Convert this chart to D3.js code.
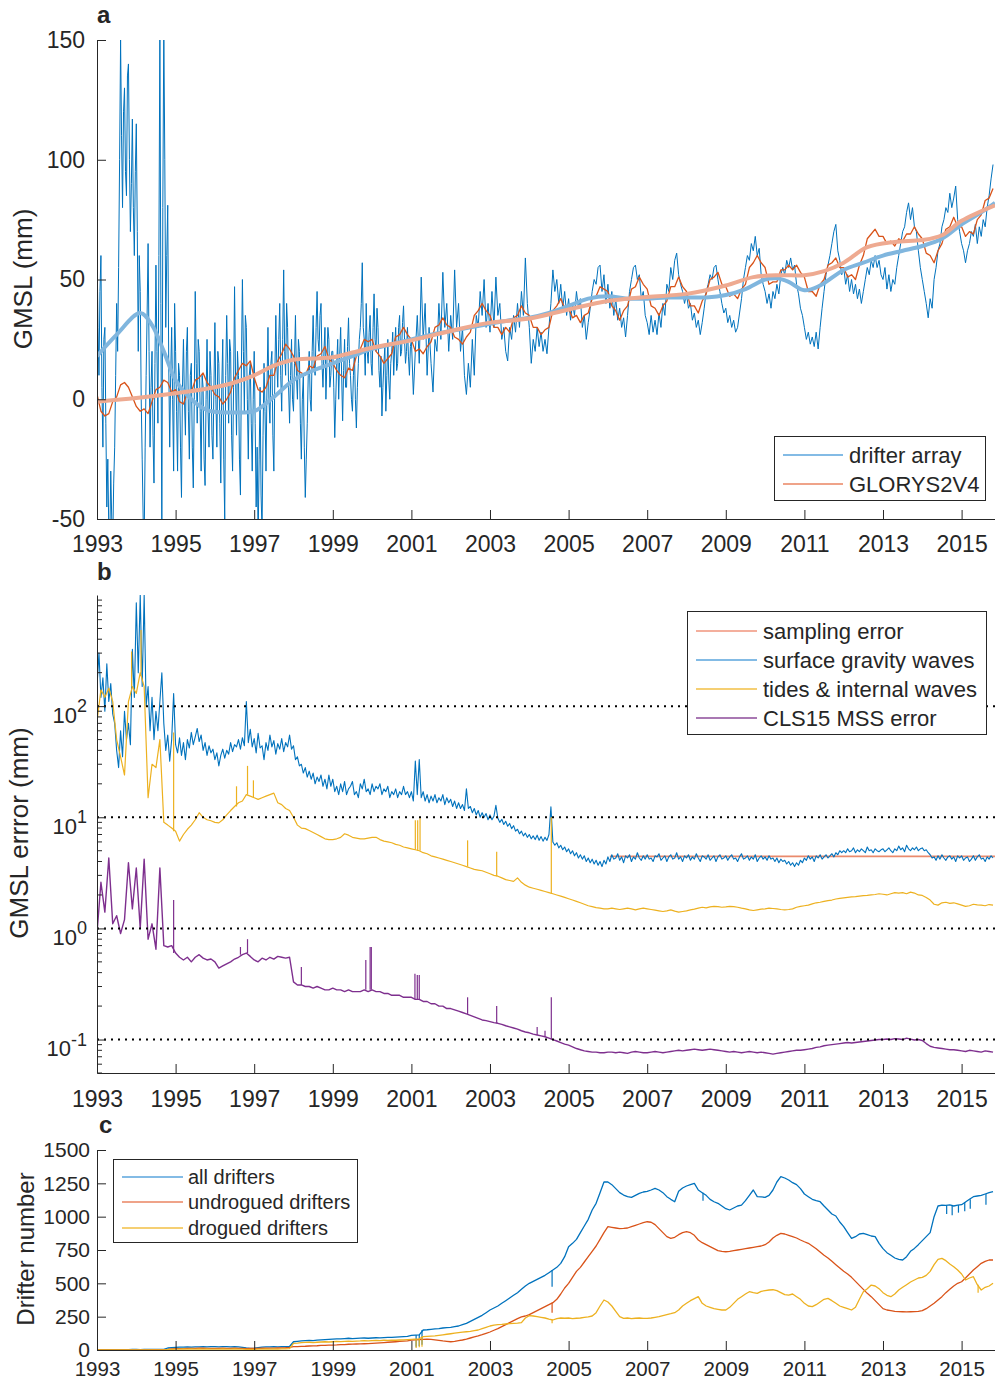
<!DOCTYPE html>
<html>
<head>
<meta charset="utf-8">
<script src="https://cdn.jsdelivr.net/npm/d3@7"></script>
<style>
  body { margin: 0; background: #fff; }
  svg text { font-family: 'Liberation Sans', Arial, Helvetica, sans-serif; fill: #262626; }
</style>
</head>
<body>
<div id="chart"></div>
<script>
/* Data
-----------------------------------------------------------------------------*/
const startYear = 1993;
const lateStart = 2001;
const denseStep = 0.025;
const fineStep = 0.05;
const coarseStep = 0.1;

const yearTicks = [1993, 1995, 1997, 1999, 2001, 2003, 2005, 2007, 2009, 2011, 2013, 2015];
const gmslTicks = [-50, 0, 50, 100, 150];
const errorTicks = [0.1, 1, 10, 100];
const errorExponents = ['-1', '0', '1', '2'];
const numberTicks = [0, 250, 500, 750, 1000, 1250, 1500];

const gmslLabels = ['drifter array', 'GLORYS2V4'];
const errorLabels = ['sampling error', 'surface gravity waves', 'tides & internal waves', 'CLS15 MSS error'];
const numberLabels = ['all drifters', 'undrogued drifters', 'drogued drifters'];

// panel a, drifter array GMSL (mm), every 0.025 yr from 1993 to 2000.975
const drifterGmslEarly = [
  65, 30, 10, 45, 60, 5, -20, 25, 30, -10, -45, -25, -55, -60, -30, -50, -60, -35, -20, 10,
  40, 20, 55, 100, 150, 110, 80, 120, 130, 95, 85, 135, 140, 100, 70, 90, 117, 80, 60, 95,
  115, 70, 20, 60, 45, 0, -25, -50, -60, -20, 10, 35, 65, 20, -20, 5, 20, -15, -35, 15,
  56, 20, -10, 60, 155, 40, -60, 80, 155, 100, 30, 60, 81, 15, -20, 10, 30, 0, -30, 40,
  20, -5, -30, 15, 10, -20, -41, 5, 25, 0, -15, 20, 30, -5, -25, 10, 15, -20, -37, 0,
  45, 15, -10, 25, 20, -5, -30, 10, 5, -25, -36, 0, 25, -5, -20, 20, 10, -15, -25, 5,
  32, 0, -20, 20, 15, -10, -35, 5, 25, -25, -50, 10, 35, 15, -10, 25, 20, -15, -30, 5,
  47, 10, -15, 20, 10, -25, -40, 15, 50, 20, -5, 35, 30, 0, -25, 10, 15, -10, -30, 0,
  20, -10, -45, -20, -60, -25, 5, -40, -55, -15, 15, -5, -30, 5, 30, 0, -10, 15, 20, -15,
  -30, 10, 35, 15, 5, 25, 40, 10, -5, 25, 54, 20, 10, 40, 30, 5, -10, 10, 25, 0,
  -5, 15, 35, 10, 0, 25, 20, -10, -25, 0, 10, -20, -41, -25, -10, 10, 20, 0, -5, 20,
  35, 15, 10, 30, 45, 25, 20, 35, 40, 15, 5, 20, 30, 0, 15, 30, 25, 5, 10, 20,
  20, 5, -16, 0, 15, 25, 0, 18, 30, 10, -9, 12, 25, 5, 5, 22, 34, 15, 10, 0,
  -5, 10, 20, 0, -12, 5, 15, 25, 30, 40, 57, 30, 25, 10, 40, 20, 15, 28, 35, 15,
  10, 30, 44, 25, 20, 38, 30, 12, 5, 18, -7, 5, 15, 22, -5, 10, 25, 8, 0, 15,
  20, 28, 10, 22, 30, 12, 15, 30, 35, 18, 20, 32, 39, 25, 15, 20, 30, 18, 10, 22
];

// panel a, drifter array GMSL (mm), every 0.05 yr from 2001
const drifterGmslLate = [
  25, 2, 20, 35, 15, 51, 25, 40, 10, 30, 15, 3, 25, 20, 40, 25, 53, 30, 40, 20,
  35, 25, 54, 30, 40, 20, 30, 10, 2, 15, 5, 25, 10, 35, 30, 45, 35, 50, 30, 40,
  28, 45, 30, 51, 35, 40, 25, 30, 20, 16, 30, 25, 35, 28, 40, 30, 45, 35, 59, 40,
  30, 15, 25, 20, 30, 22, 28, 20, 25, 19, 30, 40, 54, 45, 50, 40, 48, 38, 45, 35,
  42, 33, 40, 35, 45, 38, 42, 30, 35, 25, 32, 38, 45, 50, 48, 55, 56, 45, 52, 40,
  48, 38, 45, 35, 42, 33, 38, 30, 34, 26, 35, 45, 50, 55, 56, 50, 52, 42, 45, 35,
  32, 27, 35, 28, 33, 27, 36, 30, 40, 35, 48, 45, 55, 50, 58, 61, 52, 48, 45, 40,
  44, 38, 40, 33, 36, 30, 33, 27, 32, 38, 45, 48, 52, 50, 55, 56, 50, 45, 40, 36,
  38, 32, 35, 30, 33, 28, 30, 36, 42, 50, 55, 60, 58, 65, 62, 68, 60, 63, 52, 48,
  45, 40, 44, 38, 45, 42, 48, 44, 52, 55, 52, 58, 55, 59, 54, 56, 48, 44, 38, 35,
  30, 25, 28, 23, 26, 22, 28, 21, 30, 38, 45, 52, 56, 60, 65, 70, 73, 62, 58, 52,
  55, 48, 52, 45, 50, 44, 48, 42, 46, 40, 45, 50, 55, 52, 58, 55, 60, 55, 58, 52,
  50, 55, 46, 52, 45, 50, 48, 55, 60, 65, 70, 72, 78, 82, 75, 80, 72, 70, 62, 55,
  50, 45, 40, 34, 42, 38, 50, 55, 62, 65, 72, 75, 80, 78, 86, 80, 84, 89, 75, 70,
  65, 62, 57, 62, 65, 70, 68, 73, 65, 72, 68, 75, 72, 80, 85, 92, 98
];

// panel a, GLORYS2V4 GMSL (mm), every 0.1 yr from 1993
const glorysGmsl = [
  2, -5, -7, -6, -1, 1, 6, 7, 5, 1,
  -3, -5, -4, -6, -1, 4, 5, 8, 7, 3,
  4, -1, -2, 3, 3, 8, 9, 11, 7, 5,
  2, 1, -2, 0, 3, 9, 12, 15, 14, 16,
  9, 4, 3, 5, 10, 10, 16, 19, 23, 21,
  18, 12, 11, 10, 14, 13, 18, 19, 22, 17,
  15, 12, 10, 9, 13, 12, 18, 21, 25, 24,
  25, 20, 18, 15, 17, 19, 26, 27, 30, 27,
  25, 20, 21, 19, 22, 24, 30, 31, 34, 31,
  30, 26, 25, 23, 26, 28, 35, 37, 40, 37,
  35, 30, 30, 27, 30, 28, 34, 35, 39, 36,
  35, 30, 30, 27, 29, 30, 37, 39, 42, 38,
  38, 34, 35, 32, 35, 36, 42, 43, 47, 46,
  45, 39, 37, 33, 37, 39, 46, 47, 51, 48,
  46, 39, 38, 35, 39, 41, 47, 47, 51, 47,
  45, 39, 39, 36, 41, 44, 50, 51, 53, 48,
  47, 43, 44, 42, 46, 48, 55, 57, 60, 57,
  55, 48, 49, 49, 54, 54, 56, 54, 56, 53,
  51, 45, 45, 43, 48, 50, 56, 57, 59, 55,
  55, 51, 52, 50, 56, 60, 67, 69, 71, 68,
  68, 65, 66, 64, 67, 66, 69, 69, 72, 69,
  67, 61, 60, 57, 62, 65, 71, 72, 76, 72,
  72, 68, 70, 69, 75, 77, 83, 84, 88
];

// panel a, low-pass versions
const drifterSmoothYears = [1993.0, 1993.5, 1994.1, 1994.4, 1994.7, 1995.0, 1995.4, 1995.8, 1996.2, 1996.6, 1997.0, 1997.5, 1998.0, 1998.5, 1999.0, 1999.5, 2000.0, 2000.5, 2001.0, 2001.5, 2002.0, 2002.5, 2003.0, 2003.5, 2004.0, 2004.5, 2005.0, 2005.5, 2006.0, 2006.5, 2007.0, 2007.5, 2008.0, 2008.5, 2009.0, 2009.5, 2010.0, 2010.3, 2010.6, 2011.0, 2011.4, 2012.0, 2012.5, 2013.0, 2013.5, 2014.0, 2014.5, 2015.0, 2015.5, 2015.85];
const drifterSmooth = [18, 27, 36, 31, 20, 8, 0, -4.5, -5.5, -5.5, -5, 1, 8, 12, 15, 18, 21, 23, 25, 27, 28.5, 30, 31.5, 33, 34, 36, 39, 42, 43, 42, 42, 42.5, 42.5, 42.5, 43.5, 46, 50, 50.5, 49, 45.5, 47.5, 54, 57, 60, 62, 64, 67, 73, 78, 82];
const glorysSmoothYears = [1993.0, 1994.0, 1995.0, 1996.0, 1996.5, 1997.0, 1997.5, 1998.0, 1998.5, 1999.0, 1999.5, 2000.0, 2001.0, 2002.0, 2003.0, 2004.0, 2005.0, 2006.0, 2007.0, 2008.0, 2009.0, 2009.7, 2010.4, 2011.0, 2011.5, 2012.0, 2012.6, 2013.3, 2014.0, 2014.5, 2015.0, 2015.85];
const glorysSmooth = [-1, 0.5, 2.5, 5, 7, 10, 14, 16.5, 17, 17.5, 19.5, 21.5, 24.6, 28.5, 32, 33.7, 37.5, 41, 42.7, 44, 47.5, 51, 51.8, 51.8, 53.5, 57, 63.5, 65.7, 66.5, 68.5, 74.5, 81];

// panel b, GMSL error (mm)
const samplingYears = [2006.05, 2015.85];
const samplingError = [4.45, 4.45];

// surface gravity waves, every 0.05 yr from 1993
const gravityWaveError = [
  150, 300, 120, 180, 90, 240, 110, 160, 85, 70, 40, 28, 60, 35, 90, 50, 70, 45, 324, 120,
  850, 200, 1000, 150, 1000, 100, 150, 60, 120, 50, 90, 60, 110, 200, 70, 40, 55, 32, 50, 130,
  45, 38, 52, 36, 47, 33, 50, 42, 58, 45, 53, 63, 48, 55, 40, 47, 36, 44, 38, 41,
  33, 38, 29, 36, 41, 34, 40, 37, 47, 39, 45, 43, 50, 41, 52, 44, 110, 47, 62, 43,
  51, 38, 57, 42, 44, 33, 47, 40, 55, 43, 49, 37, 46, 41, 51, 39, 47, 43, 55, 41,
  44, 33, 35, 29, 30, 25, 28, 23, 26, 22, 25, 20, 23, 21, 24, 19, 22, 18, 24, 19,
  22, 17, 19, 16, 20, 17, 21, 16, 18, 19, 21, 16, 17, 15, 20, 18, 22, 17, 18, 16,
  20, 17, 19, 18, 20, 16, 18, 17, 19, 15, 17, 16, 18, 15, 17, 16, 19, 16, 17, 15,
  17, 14, 32, 16, 33, 15, 17, 14, 16, 13.5, 15.5, 14, 16, 13.5, 15, 14, 16, 13, 15, 13.5,
  14.5, 12.5, 14, 12, 13.5, 12, 13, 11.5, 18, 12, 12.5, 11, 12, 10.5, 11.5, 10, 11, 10, 10.8, 9.5,
  10.5, 9.5, 10.2, 12.8, 9.8, 9, 9.6, 8.6, 9.2, 8.3, 8.8, 7.9, 8.4, 7.5, 7.8, 7.1, 7.5, 6.8, 7.2, 6.6,
  7, 6.4, 6.8, 6.3, 6.9, 6.2, 6.7, 6.1, 6.6, 6.2, 7, 12.4, 6, 5.6, 5.9, 5.3, 5.6, 5.1, 5.4, 4.9,
  5.2, 4.7, 5, 4.5, 4.8, 4.3, 4.6, 4.2, 4.5, 4, 4.3, 3.9, 4.2, 3.8, 4.1, 3.7, 4, 3.6, 4.1, 3.8,
  4.4, 4, 4.6, 4.2, 4.3, 4.7, 4.1, 4.4, 3.9, 4.5, 4.3, 4.6, 4, 4.4, 4.2, 4.8, 4.3, 4.1, 4.5, 4.2,
  4.6, 4.2, 4.3, 4, 4.5, 4.4, 4.7, 4.1, 4.3, 4.5, 4, 4.4, 4.6, 4.2, 4.3, 4.8, 4.2, 4.4, 4, 4.5,
  4.3, 4.6, 4.1, 4.4, 4.2, 4.7, 4.3, 4, 4.5, 4.4, 4.2, 4.6, 4.1, 4.3, 4.5, 4, 4.4, 4.6, 4.2, 4.3,
  4.5, 4.1, 4.4, 4.6, 4.2, 4.3, 4, 4.4, 4.7, 4.2, 4.3, 4.5, 4.1, 4.4, 4.2, 4.6, 4, 4.3, 4.5, 4.2,
  4.4, 4.1, 4.5, 4.2, 4.3, 4, 4.3, 3.9, 4.2, 4, 4.1, 3.8, 4, 3.7, 3.9, 3.6, 3.9, 3.7, 4.1, 3.9,
  4.3, 4.1, 4.5, 4.2, 4.4, 4, 4.5, 4.3, 4.6, 4.2, 4.4, 4.6, 4.3, 4.5, 4.7, 4.4, 4.8, 4.6, 5, 4.8,
  5, 4.8, 5.2, 4.9, 5, 5.3, 4.8, 5.1, 4.9, 5.2, 5, 4.8, 5.4, 5, 5.1, 4.8, 5.2, 5, 4.9, 5.1,
  5.2, 4.9, 5.1, 5.3, 5, 4.8, 5.2, 5, 5.5, 5.1, 5.3, 4.9, 5.6, 5.2, 5, 5.3, 5.1, 5.4, 5, 5.2,
  5.3, 5, 5.1, 4.8, 4.6, 4.3, 4.4, 4.1, 4.5, 4.2, 4.6, 4.3, 4.1, 4.4, 4.5, 4.2, 4.4, 4, 4.5, 4.3,
  4.5, 4.1, 4.3, 4.4, 4, 4.2, 4.5, 4.1, 4.4, 4.6, 4.2, 4.3, 4, 4.4, 4.2, 4.5, 4.3
];

// tides & internal waves, every 0.1 yr from 1993
const tideError = [
  73, 140, 120, 145, 110, 50, 35, 24, 110, 150,
  130, 200, 150, 15, 30, 28, 50, 9, 8.5, 8,
  7.5, 6.1, 7, 7.8, 8.5, 9.5, 11, 10, 9.5, 9.3,
  9, 8.9, 9.5, 10.5, 11.5, 12.5, 13.5, 14, 16, 15.5,
  15, 14.5, 15, 15.5, 16, 16.5, 13.5, 13, 12, 11.5,
  10, 8.5, 8, 7.9, 7.6, 7.3, 7, 6.7, 6.4, 6.3,
  6.3, 6.4, 6.6, 7.1, 6.9, 6.6, 6.5, 6.4, 6.4, 6.5,
  6.6, 6.6, 6.3, 6.1, 6, 5.9, 5.7, 5.6, 5.4, 5.3,
  5.2, 5.1, 5, 4.8, 4.7, 4.5, 4.4, 4.3, 4.2, 4.1,
  4, 3.9, 3.8, 3.7, 3.6, 3.5, 3.4, 3.35, 3.3, 3.2,
  3.1, 3, 2.95, 2.85, 2.75, 2.7, 2.65, 2.85, 2.6, 2.45,
  2.35, 2.3, 2.25, 2.2, 2.15, 2.1, 2.05, 2, 1.95, 1.9,
  1.85, 1.8, 1.75, 1.7, 1.65, 1.6, 1.57, 1.54, 1.52, 1.5,
  1.5, 1.52, 1.5, 1.48, 1.5, 1.52, 1.5, 1.47, 1.5, 1.52,
  1.5, 1.48, 1.46, 1.44, 1.42, 1.44, 1.47, 1.43, 1.4, 1.42,
  1.44, 1.47, 1.49, 1.52, 1.55, 1.53, 1.56, 1.58, 1.57, 1.55,
  1.56, 1.58, 1.57, 1.55, 1.52, 1.5, 1.47, 1.45, 1.47, 1.49,
  1.5, 1.52, 1.51, 1.5, 1.48, 1.47, 1.48, 1.5, 1.55, 1.58,
  1.6, 1.62, 1.66, 1.7, 1.72, 1.75, 1.78, 1.8, 1.84, 1.86,
  1.88, 1.9, 1.92, 1.93, 1.95, 1.97, 1.98, 2, 2.02, 2.05,
  2.03, 2, 2.05, 2.1, 2.08, 2.1, 2.05, 2.12, 2.08, 2,
  1.98, 1.9, 1.8, 1.65, 1.62, 1.7, 1.72, 1.68, 1.7, 1.66,
  1.62, 1.58, 1.6, 1.65, 1.63, 1.62, 1.6, 1.64, 1.62
];
const tideSpikes = [[1993.88, 310], [1994.12, 485], [1994.95, 58], [1996.55, 19], [1996.83, 29], [1996.98, 21.5], [2001.1, 9.4], [2001.16, 9.4], [2001.22, 9.8], [2002.43, 6.2], [2003.17, 4.9], [2004.56, 10]];

// CLS15 MSS error, every 0.1 yr from 1993
const mssError = [
  0.9, 2.6, 1.4, 4.3, 1.1, 1.3, 0.9, 1.2, 3.9, 1.5,
  3.5, 1, 4.2, 0.8, 1.1, 0.65, 3.5, 0.7, 0.68, 0.7,
  0.6, 0.55, 0.52, 0.55, 0.5, 0.55, 0.58, 0.54, 0.52, 0.53,
  0.5, 0.44, 0.46, 0.48, 0.5, 0.53, 0.55, 0.58, 0.6, 0.56,
  0.52, 0.5, 0.54, 0.52, 0.55, 0.53, 0.56, 0.55, 0.54, 0.55,
  0.33, 0.31, 0.31, 0.3, 0.3, 0.29, 0.3, 0.29, 0.28, 0.28,
  0.29, 0.28, 0.28, 0.27, 0.28, 0.27, 0.27, 0.27, 0.28, 0.27,
  0.28, 0.27, 0.27, 0.26, 0.26, 0.25, 0.25, 0.25, 0.24, 0.24,
  0.24, 0.23, 0.23, 0.22, 0.22, 0.21, 0.21, 0.2, 0.2, 0.19,
  0.19, 0.185, 0.18, 0.175, 0.17, 0.165, 0.16, 0.155, 0.15, 0.148,
  0.145, 0.142, 0.14, 0.137, 0.133, 0.13, 0.127, 0.124, 0.12, 0.117,
  0.115, 0.112, 0.11, 0.108, 0.106, 0.103, 0.1, 0.097, 0.094, 0.091,
  0.089, 0.086, 0.083, 0.081, 0.079, 0.078, 0.077, 0.077, 0.076, 0.076,
  0.077, 0.077, 0.076, 0.077, 0.076, 0.075, 0.077, 0.078, 0.077, 0.076,
  0.076, 0.077, 0.078, 0.077, 0.076, 0.077, 0.078, 0.079, 0.08, 0.079,
  0.08, 0.081, 0.082, 0.081, 0.08, 0.081, 0.082, 0.081, 0.08, 0.079,
  0.078, 0.077, 0.078, 0.077, 0.076, 0.077, 0.078, 0.077, 0.076, 0.077,
  0.076, 0.075, 0.074, 0.075, 0.076, 0.077, 0.078, 0.079, 0.08, 0.08,
  0.081, 0.082, 0.083, 0.085, 0.086, 0.088, 0.089, 0.09, 0.091, 0.092,
  0.093, 0.094, 0.093, 0.094, 0.095, 0.096, 0.097, 0.098, 0.099, 0.1,
  0.1, 0.101, 0.1, 0.102, 0.101, 0.1, 0.103, 0.101, 0.099, 0.1,
  0.098, 0.092, 0.087, 0.085, 0.084, 0.083, 0.082, 0.081, 0.081, 0.08,
  0.079, 0.078, 0.08, 0.079, 0.078, 0.077, 0.079, 0.078, 0.077
];
const mssSpikes = [[1994.95, 1.8], [1996.65, 0.68], [1996.83, 0.8], [1998.2, 0.45], [1999.84, 0.52], [1999.95, 0.68], [1999.98, 0.68], [2001.09, 0.39], [2001.15, 0.38], [2001.2, 0.38], [2002.43, 0.24], [2003.17, 0.2], [2004.2, 0.13], [2004.4, 0.12], [2004.56, 0.24]];

// panel c, drifter number, every 0.1 yr from 1993
const allDrifters = [
  2, 2, 3, 2, 3, 3, 2, 3, 3, 4,
  4, 3, 4, 4, 5, 4, 5, 4, 15, 18,
  20, 22, 21, 23, 22, 24, 23, 25, 24, 26,
  25, 24, 26, 25, 24, 25, 23, 20, 15, 12,
  14, 18, 22, 24, 23, 25, 24, 26, 25, 26,
  62, 65, 68, 70, 72, 70, 74, 76, 78, 80,
  82, 84, 83, 86, 88, 85, 87, 89, 90, 88,
  90, 92, 91, 93, 95, 94, 96, 98, 100, 102,
  110, 112, 114, 150, 152, 155, 158, 160, 165, 168,
  170, 175, 180, 190, 200, 215, 230, 245, 260, 280,
  300, 315, 330, 350, 370, 390, 410, 430, 455, 480,
  500, 515, 530, 545, 560, 580, 600, 620, 650, 700,
  775, 800, 830, 880, 930, 980, 1050, 1100, 1180, 1260,
  1260, 1240, 1210, 1180, 1162, 1150, 1145, 1160, 1175, 1185,
  1190, 1200, 1212, 1200, 1180, 1150, 1130, 1112, 1190, 1215,
  1230, 1240, 1250, 1200, 1180, 1160, 1130, 1112, 1100, 1080,
  1060, 1050, 1065, 1080, 1087, 1120, 1160, 1200, 1150, 1148,
  1145, 1160, 1200, 1260, 1300, 1290, 1275, 1255, 1240, 1210,
  1170, 1150, 1130, 1120, 1112, 1080, 1050, 1020, 1005, 960,
  925, 880, 837, 850, 870, 875, 865, 855, 850, 800,
  760, 730, 710, 690, 680, 675, 700, 740, 762, 790,
  820, 850, 880, 1000, 1080, 1087, 1085, 1088, 1080, 1087,
  1090, 1110, 1130, 1150, 1155, 1160, 1170, 1180, 1187
];
const allSpikes = [[2001.12, 25], [2001.2, 30], [2001.27, 40], [2004.58, 475], [2008.42, 1120], [2014.62, 1020], [2014.76, 1010], [2014.92, 1030], [2015.08, 1040], [2015.22, 1060], [2015.62, 1090]];

const undroguedDrifters = [
  0, 0, 0, 0, 0, 0, 0, 0, 1, 1,
  1, 1, 1, 1, 2, 2, 2, 3, 5, 8,
  10, 10, 11, 12, 12, 12, 13, 13, 12, 12,
  12, 12, 13, 12, 12, 13, 12, 12, 11, 12,
  12, 12, 13, 13, 14, 14, 15, 16, 17, 20,
  25, 26, 27, 28, 30, 31, 32, 34, 35, 37,
  37, 38, 40, 41, 43, 44, 45, 46, 47, 48,
  50, 52, 54, 56, 58, 60, 62, 64, 66, 68,
  75, 76, 78, 80, 82, 80, 76, 72, 68, 65,
  62, 65, 70, 75, 82, 90, 98, 106, 115, 125,
  135, 148, 160, 175, 190, 205, 220, 235, 248, 255,
  265, 280, 295, 310, 325, 340, 355, 380, 420, 465,
  500, 545, 590, 620, 660, 700, 740, 780, 830, 880,
  925, 920, 915, 910, 912, 915, 925, 935, 945, 955,
  962, 958, 940, 910, 880, 850, 837, 845, 865, 880,
  887, 880, 860, 825, 805, 790, 775, 760, 745, 740,
  737, 740, 745, 750, 755, 760, 765, 770, 775, 780,
  790, 810, 840, 860, 875, 870, 860, 850, 840, 825,
  812, 800, 780, 760, 735, 710, 690, 665, 640, 615,
  590, 570, 545, 515, 485, 455, 425, 400, 370, 340,
  310, 300, 295, 290, 288, 287, 286, 287, 288, 290,
  295, 310, 330, 350, 375, 400, 430, 455, 480, 500,
  512, 540, 570, 600, 625, 650, 665, 675, 675
];
const undroguedSpikes = [[2004.58, 280]];

const droguedDrifters = [
  0, 0, 0, 0, 0, 0, 0, 0, 1, 1,
  1, 1, 1, 1, 1, 1, 1, 1, 3, 5,
  7, 7, 8, 7, 8, 7, 8, 7, 8, 7,
  7, 7, 8, 7, 7, 8, 7, 6, 5, 4,
  5, 6, 7, 8, 7, 8, 7, 8, 9, 10,
  50, 52, 55, 57, 58, 56, 58, 60, 62, 60,
  62, 64, 63, 65, 66, 64, 67, 68, 70, 68,
  70, 72, 70, 73, 72, 74, 73, 75, 76, 78,
  80, 82, 84, 100, 102, 104, 106, 110, 114, 118,
  122, 126, 130, 134, 137, 140, 145, 150, 160, 170,
  180, 186, 190, 192, 195, 198, 200, 202, 205, 240,
  258, 255, 250, 245, 240, 232, 225, 235, 240, 238,
  240, 236, 238, 240, 245, 248, 255, 280, 330, 375,
  360, 330, 290, 250, 237, 240, 235, 238, 240, 237,
  237, 240, 245, 250, 258, 265, 272, 280, 300, 330,
  350, 370, 385, 400, 350, 330, 320, 310, 305, 300,
  300, 320, 350, 380, 400, 420, 437, 430, 425, 440,
  445, 450, 452, 445, 430, 415, 412, 420, 400, 380,
  350, 330, 325, 340, 360, 380, 387, 370, 350, 330,
  320, 310, 300, 320, 380, 437, 460, 487, 480, 460,
  430, 410, 400, 420, 450, 470, 490, 510, 525, 540,
  545, 560, 590, 640, 680, 687, 670, 645, 625, 600,
  570, 525, 540, 550, 490, 450, 470, 480, 500
];
const droguedSpikes = [[2001.12, 15], [2001.2, 20], [2001.27, 25], [2004.58, 200], [2015.42, 430]];

/* Setup
-----------------------------------------------------------------------------*/
const width = 995;
const height = 1380;
const left = 97;
const right = 995;

const blue = '#0072bd';
const orange = '#d95319';
const yellow = '#edb120';
const purple = '#7e2f8e';
const lightBlue = '#80b6de';
const lightOrange = '#eeaa91';
const salmon = '#ea8a6c';

const keyBlue = '#5aa5dc';
const keyOrange = '#ea8462';
const keyYellow = '#f2bf45';
const keyPurple = '#8c4b9a';
const keySalmon = '#f0957c';

const svg = d3
  .select('#chart')
  .append('svg')
  .attr('width', width)
  .attr('height', height)
  .attr('xmlns', 'http://www.w3.org/2000/svg');

svg.append('rect').attr('width', width).attr('height', height).attr('fill', '#fff');

const x = d3.scaleLinear().domain([1993, 2015.85]).range([left, right]);
const yA = d3.scaleLinear().domain([-50, 150]).range([519, 40]);
const yB = d3.scaleLog().domain([0.05, 1000]).range([1073, 595]);
const yC = d3.scaleLinear().domain([0, 1500]).range([1350, 1150]);

/* Helpers
-----------------------------------------------------------------------------*/
function toSeries(values, step, from = startYear) {
  return values.map((v, i) => [+(from + i * step).toFixed(3), v]);
}

function toPairs(years, values) {
  return years.map((t, i) => [t, values[i]]);
}

function plotArea(id, top, bottom) {
  svg
    .append('clipPath')
    .attr('id', id)
    .append('rect')
    .attr('x', left)
    .attr('y', top)
    .attr('width', right - left)
    .attr('height', bottom - top);
  return svg.append('g').attr('clip-path', `url(#${id})`);
}

function drawLine(group, y, data, color, strokeWidth, curve) {
  group
    .append('path')
    .datum(data)
    .attr('fill', 'none')
    .attr('stroke', color)
    .attr('stroke-width', strokeWidth)
    .attr('stroke-linejoin', 'round')
    .attr(
      'd',
      d3
        .line()
        .x((d) => x(d[0]))
        .y((d) => y(d[1]))
        .curve(curve || d3.curveLinear)
    );
}

function drawSpikes(group, y, values, step, spikes, color, strokeWidth) {
  spikes.forEach(([t, peak]) => {
    const base = values[Math.round((t - startYear) / step)];
    group
      .append('line')
      .attr('x1', x(t))
      .attr('x2', x(t))
      .attr('y1', y(base))
      .attr('y2', y(peak))
      .attr('stroke', color)
      .attr('stroke-width', strokeWidth);
  });
}

function styleAxis(g, size) {
  g.attr('font-family', null).attr('font-size', size).attr('color', '#262626');
}

function bottomAxis(yPos, padding, size) {
  svg
    .append('g')
    .attr('transform', `translate(0,${yPos})`)
    .call(
      d3
        .axisBottom(x)
        .tickValues(yearTicks)
        .tickFormat((d) => String(d))
        .tickSizeInner(-9)
        .tickSizeOuter(0)
        .tickPadding(padding)
    )
    .call((g) => styleAxis(g, size));
}

function leftAxis(y, ticks, padding, size, format) {
  return svg
    .append('g')
    .attr('transform', `translate(${left},0)`)
    .call(
      d3
        .axisLeft(y)
        .tickValues(ticks)
        .tickFormat(format)
        .tickSizeInner(-9)
        .tickSizeOuter(0)
        .tickPadding(padding)
    )
    .call((g) => styleAxis(g, size));
}

function legend(box, labels, colors, lineX, textX, rowY, size) {
  const g = svg.append('g');
  g.append('rect')
    .attr('x', box[0])
    .attr('y', box[1])
    .attr('width', box[2])
    .attr('height', box[3])
    .attr('fill', '#fff')
    .attr('stroke', '#262626')
    .attr('stroke-width', 1);
  labels.forEach((label, i) => {
    g.append('line')
      .attr('x1', lineX[0])
      .attr('x2', lineX[1])
      .attr('y1', rowY[i])
      .attr('y2', rowY[i])
      .attr('stroke', colors[i])
      .attr('stroke-width', 1.5);
    g.append('text')
      .attr('x', textX)
      .attr('y', rowY[i] + size * 0.35)
      .attr('font-size', size)
      .text(label);
  });
}

function panelLetter(letter, px, py) {
  svg.append('text').attr('x', px).attr('y', py).attr('font-size', 24).attr('font-weight', 'bold').text(letter);
}

function yTitle(label, px, py, size) {
  svg
    .append('text')
    .attr('transform', `translate(${px},${py}) rotate(-90)`)
    .attr('text-anchor', 'middle')
    .attr('font-size', size)
    .text(label);
}

/* Panel a
-----------------------------------------------------------------------------*/
const areaA = plotArea('clipA', 40, 519);
const drifterSeries = toSeries(drifterGmslEarly, denseStep).concat(toSeries(drifterGmslLate, fineStep, lateStart));
drawLine(areaA, yA, drifterSeries, blue, 1);
drawLine(areaA, yA, toSeries(glorysGmsl, coarseStep), orange, 1.3);
drawLine(areaA, yA, toPairs(drifterSmoothYears, drifterSmooth), lightBlue, 4, d3.curveCatmullRom);
drawLine(areaA, yA, toPairs(glorysSmoothYears, glorysSmooth), lightOrange, 4, d3.curveCatmullRom);

bottomAxis(519, 17, 23);
leftAxis(yA, gmslTicks, 12, 23, (d) => String(d));
legend([774.5, 436.5, 211, 64], gmslLabels, [keyBlue, keyOrange], [783, 843], 849, [455, 484], 22);
panelLetter('a', 97, 23);
yTitle('GMSL (mm)', 32, 279, 26);

/* Panel b
-----------------------------------------------------------------------------*/
const areaB = plotArea('clipB', 595, 1073);
drawLine(areaB, yB, toPairs(samplingYears, samplingError), salmon, 1.6);
drawLine(areaB, yB, toSeries(gravityWaveError, fineStep), blue, 1.1);
drawLine(areaB, yB, toSeries(tideError, coarseStep), yellow, 1.2);
drawSpikes(areaB, yB, tideError, coarseStep, tideSpikes, yellow, 1.2);
drawLine(areaB, yB, toSeries(mssError, coarseStep), purple, 1.4);
drawSpikes(areaB, yB, mssError, coarseStep, mssSpikes, purple, 1.2);

errorTicks.forEach((v) => {
  svg
    .append('line')
    .attr('x1', left)
    .attr('x2', right)
    .attr('y1', yB(v))
    .attr('y2', yB(v))
    .attr('stroke', '#000')
    .attr('stroke-width', 2)
    .attr('stroke-dasharray', '2 5');
});

bottomAxis(1073, 18, 23);
leftAxis(yB, errorTicks, 10, 22, () => '');

yB.ticks()
  .filter((v) => Math.abs(Math.log10(v) - Math.round(Math.log10(v))) > 1e-6)
  .forEach((v) => {
    svg
      .append('line')
      .attr('x1', left)
      .attr('x2', left + 5)
      .attr('y1', yB(v))
      .attr('y2', yB(v))
      .attr('stroke', '#262626')
      .attr('stroke-width', 1);
  });

errorTicks.forEach((v, i) => {
  const label = svg
    .append('text')
    .attr('x', 87)
    .attr('y', yB(v) + 16.5)
    .attr('text-anchor', 'end')
    .attr('font-size', 22);
  label.append('tspan').text('10');
  label.append('tspan').attr('font-size', 18).attr('dy', -10.5).text(errorExponents[i]);
});

legend([687.5, 611.5, 299, 123], errorLabels, [keySalmon, keyBlue, keyYellow, keyPurple], [696, 757], 763, [631, 660, 689, 718], 22);
panelLetter('b', 97, 580);
yTitle('GMSL errror (mm)', 28, 833, 26);

/* Panel c
-----------------------------------------------------------------------------*/
const areaC = plotArea('clipC', 1150, 1350);
drawLine(areaC, yC, toSeries(allDrifters, coarseStep), blue, 1.3);
drawSpikes(areaC, yC, allDrifters, coarseStep, allSpikes, blue, 1.2);
drawLine(areaC, yC, toSeries(undroguedDrifters, coarseStep), orange, 1.3);
drawSpikes(areaC, yC, undroguedDrifters, coarseStep, undroguedSpikes, orange, 1.2);
drawLine(areaC, yC, toSeries(droguedDrifters, coarseStep), yellow, 1.3);
drawSpikes(areaC, yC, droguedDrifters, coarseStep, droguedSpikes, yellow, 1.2);

bottomAxis(1350, 11, 20.5);
leftAxis(yC, numberTicks, 7, 21, (d) => String(d));
legend([113.5, 1159.5, 244, 83], numberLabels, [keyBlue, keyOrange, keyYellow], [122, 183], 188, [1177, 1202, 1228], 20);
panelLetter('c', 99, 1133);
yTitle('Drifter number', 34, 1249, 24);
</script>
</body>
</html>
